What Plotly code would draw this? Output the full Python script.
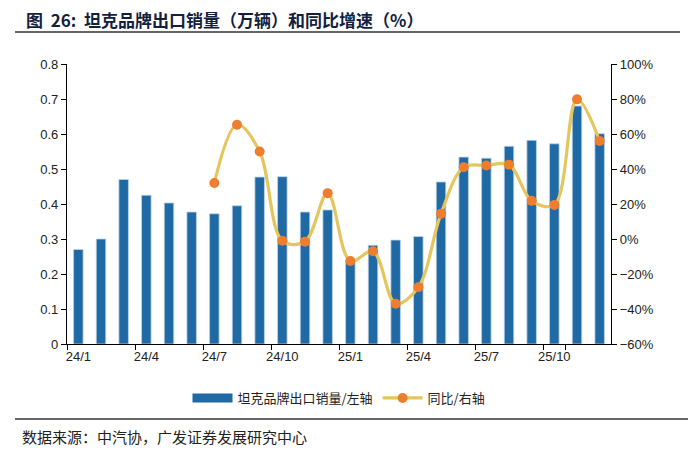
import plotly.graph_objects as go

months = ["24/1","24/2","24/3","24/4","24/5","24/6","24/7","24/8","24/9","24/10","24/11","24/12",
          "25/1","25/2","25/3","25/4","25/5","25/6","25/7","25/8","25/9","25/10","25/11","25/12"]
sales = [0.27,0.30,0.47,0.425,0.403,0.377,0.372,0.395,0.477,0.478,0.377,0.383,
         0.238,0.282,0.297,0.307,0.463,0.534,0.531,0.565,0.582,0.572,0.680,0.601]
yoy = [None,None,None,None,None,None,32.0,65.3,50.0,-1.0,-1.5,26.2,
       -12.6,-7.0,-37.0,-27.6,14.5,41.0,42.0,42.5,21.8,19.5,79.8,56.0]
tick_labels = ["24/1","24/4","24/7","24/10","25/1","25/4","25/7","25/10"]

title = "图  26:  坦克品牌出口销量（万辆）和同比增速（%）"
source = "数据来源：中汽协，广发证券发展研究中心"
bar_name = "坦克品牌出口销量/左轴"
line_name = "同比/右轴"

cjk = "Noto Sans CJK SC"
latin = "Liberation Sans, Arial"
bar_color = "#1F69A4"

# offsets: the page body adds 8px margin
OX, OY = 8, 8
L, R, T, B = 67 - OX, 700 - 611 + OX, 64 - OY, 455 - 344 + OY
PW, PH = 544, 280

def px(x):
    return (x - 67) / PW

def py(y):
    return (344 - y) / PH

fig = go.Figure()
fig.add_trace(go.Bar(
    x=months, y=sales, name=bar_name, showlegend=False,
    marker=dict(color=bar_color, line=dict(color="#BCD3EA", width=0.8)),
    width=0.42, yaxis="y"))
# legend proxy for the bar series (wide rectangle)
fig.add_trace(go.Scatter(
    x=[None], y=[None], name=bar_name, mode="lines",
    line=dict(color=bar_color, width=9), yaxis="y"))
fig.add_trace(go.Scatter(
    x=months, y=yoy, name=line_name, yaxis="y2",
    mode="lines+markers", line=dict(color="#E5C55E", width=3.2, shape="spline", smoothing=1.0),
    marker=dict(color="#EE7D30", size=10), connectgaps=False))

fig.update_layout(
    width=700, height=455,
    margin=dict(l=L, r=R, t=T, b=B),
    paper_bgcolor="white", plot_bgcolor="white",
    showlegend=True,
    legend=dict(orientation="h", x=0.5, xanchor="center", y=py(383), yanchor="top",
                font=dict(family=cjk, size=13, color="#222"), itemwidth=40,
                traceorder="normal"),
    xaxis=dict(type="category", categoryorder="array", categoryarray=months,
               tickmode="array", tickvals=tick_labels, ticktext=tick_labels,
               tickson="boundaries", ticks="outside", ticklen=5, tickcolor="black",
               tickangle=0,
               showline=True, linecolor="black", linewidth=1.3, showgrid=False,
               tickfont=dict(family=latin, size=13, color="#222"), range=[-0.5, 23.5]),
    yaxis=dict(range=[0, 0.8], dtick=0.1, tickformat=".1~f", showgrid=False,
               showline=True, linecolor="black", linewidth=1.3, ticks="outside",
               ticklen=5, tickcolor="black", zeroline=False,
               tickfont=dict(family=latin, size=13, color="#222")),
    yaxis2=dict(range=[-60, 100], dtick=20, overlaying="y", side="right",
                ticksuffix="%", showgrid=False, showline=True, linecolor="black",
                linewidth=1.3, ticks="outside", ticklen=5, tickcolor="black",
                zeroline=False, tickfont=dict(family=latin, size=13, color="#222")),
    font=dict(family=latin),
)

fig.add_annotation(text="<b>" + title + "</b>", xref="paper", yref="paper",
                   x=px(24), y=py(20), showarrow=False,
                   xanchor="left", yanchor="middle",
                   font=dict(family=cjk, size=17, color="#14213D"))
fig.add_annotation(text=source, xref="paper", yref="paper",
                   x=px(20), y=py(436), showarrow=False,
                   xanchor="left", yanchor="middle",
                   font=dict(family=cjk, size=15, color="#222"))
fig.add_shape(type="line", xref="paper", yref="paper",
              x0=px(15), x1=px(680), y0=py(32), y1=py(32),
              line=dict(color="#333", width=1.5))
fig.add_shape(type="line", xref="paper", yref="paper",
              x0=px(15), x1=px(688), y0=py(419), y1=py(419),
              line=dict(color="#333", width=1.5))

fig.write_html("out.html")
